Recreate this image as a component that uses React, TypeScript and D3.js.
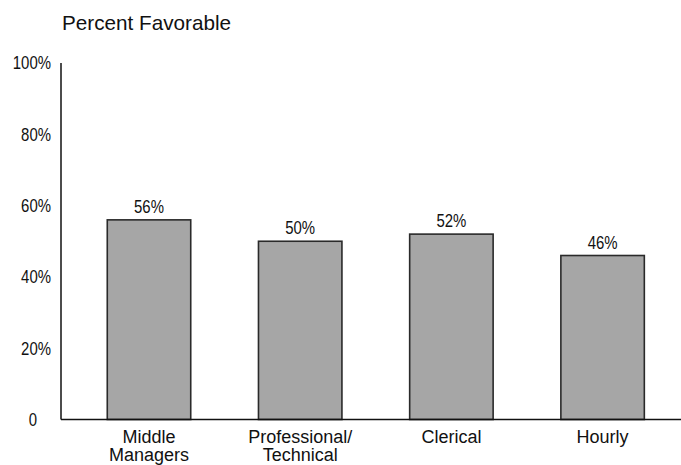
import React from "react";
import * as d3 from "d3";

const categories: string[][] = [["Middle", "Managers"], ["Professional/", "Technical"], ["Clerical"], ["Hourly"]];
const values: number[] = [0.56, 0.5, 0.52, 0.46];
const valueLabels: string[] = ["56%", "50%", "52%", "46%"];
const tickValues: number[] = [0, 0.2, 0.4, 0.6, 0.8, 1];
const tickLabels: string[] = ["0", "20%", "40%", "60%", "80%", "100%"];
const title = "Percent Favorable";

const W = 681;
const H = 465;
const axisX = 61;
const sans = "'Liberation Sans', Arial, sans-serif";
const narrowScale = 0.83;

export default function App() {
  const y = d3.scaleLinear().domain([0, 1]).range([419.5, 63]);
  const x = d3
    .scaleBand<number>()
    .domain(d3.range(categories.length))
    .range([73.4, 678.2])
    .paddingInner(0.448)
    .paddingOuter(0.224);

  return (
    <svg width={W} height={H} style={{ position: "absolute", left: 0, top: 0, background: "#fff" }}>
      <text x={62} y={29.5} fontFamily={sans} fontSize={20.7} fill="#111">
        {title}
      </text>
      {tickValues.map((t, i) => (
        <text
          key={i}
          transform={`translate(${t === 0 ? 37 : 51},${y(t)}) scale(${narrowScale},1)`}
          dy="0.36em"
          textAnchor="end"
          fontFamily={sans}
          fontSize={18}
          fill="#111"
        >
          {tickLabels[i]}
        </text>
      ))}
      {values.map((v, i) => (
        <g key={i}>
          <rect
            x={x(i)!}
            y={y(v)}
            width={x.bandwidth()}
            height={y(0) - y(v)}
            fill="#a6a6a6"
            stroke="#2a2a2a"
            strokeWidth={1.6}
          />
          <text
            transform={`translate(${x(i)! + x.bandwidth() / 2},${y(v) - 7}) scale(${narrowScale},1)`}
            textAnchor="middle"
            fontFamily={sans}
            fontSize={18}
            fill="#111"
          >
            {valueLabels[i]}
          </text>
          <text
            x={x(i)! + x.bandwidth() / 2}
            y={443}
            textAnchor="middle"
            fontFamily={sans}
            fontSize={18}
            fill="#111"
          >
            {categories[i].map((line, j) => (
              <tspan key={j} x={x(i)! + x.bandwidth() / 2} dy={j === 0 ? 0 : 17.5}>
                {line}
              </tspan>
            ))}
          </text>
        </g>
      ))}
      <line x1={axisX} x2={axisX} y1={y(1)} y2={y(0)} stroke="#111" strokeWidth={1.5} />
      <line x1={axisX} x2={W} y1={y(0)} y2={y(0)} stroke="#111" strokeWidth={1.5} />
    </svg>
  );
}
